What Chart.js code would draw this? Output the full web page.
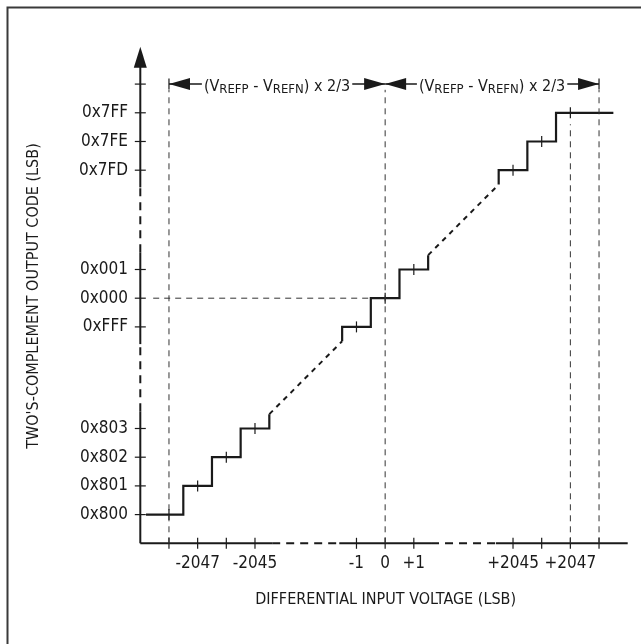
<!DOCTYPE html>
<html><head><meta charset="utf-8">
<script src="https://cdn.jsdelivr.net/npm/chart.js@4.4.1/dist/chart.umd.min.js"></script>
<style>html,body{margin:0;padding:0;background:#fff;}canvas{display:block;}</style>
</head><body>
<canvas id="c" width="641" height="644"></canvas>
<script>
// ---------------- data ----------------
const codeValues = [-2048, -2047, -2046, -2045, -1, 0, 1, 2045, 2046, 2047];
const codeLabels = ['0x800', '0x801', '0x802', '0x803', '0xFFF', '0x000', '0x001', '0x7FD', '0x7FE', '0x7FF'];
const inputTickValues = [-2048, -2047, -2046, -2045, -1, 0, 1, 2045, 2046, 2047, 2048];
const inputLabelValues = [-2047, -2045, -1, 0, 1, 2045, 2047];
const inputLabels = ['-2047', '-2045', '-1', '0', '+1', '+2045', '+2047'];
const stepGroups = [[-2048, -2047, -2046, -2045], [-1, 0, 1], [2045, 2046, 2047]];
const firstTreadStart = -2048.8;   // LSB where the 0x800 code line begins
const lastTreadEnd = 2048.5;       // LSB where the 0x7FF code line ends
const fullScaleMarks = [-2048, 0, 2048];
const spanLabelParts = ['(V', 'REFP', ' - V', 'REFN', ') x 2/3'];
const xTitle = 'DIFFERENTIAL INPUT VOLTAGE (LSB)';
const yTitle = "TWO'S-COMPLEMENT OUTPUT CODE (LSB)";
const axisOrigin = -2049;
const axisBreaks = [[-2044.4, -1.6], [1.6, 2044.4]];
const yAxisTip = 2049.3;
const xAxisEnd = 2049;

// ---------------- broken-axis transform ----------------
function brk(v) {
  if (v < -1000) return v + 2049;
  if (v > 1000) return v - 2032;
  return v + 8.54;
}
const FONT = '"Liberation Sans Narrow", "DejaVu Sans Condensed", "Arial Narrow", sans-serif';
const INK = '#1a1a1a';

function stepPath(codes, startX, endX) {
  const pts = [];
  const c0 = codes[0], cn = codes[codes.length - 1];
  if (startX === undefined) pts.push({x: c0 - 0.5, y: c0 - 0.5});
  codes.forEach((c, i) => {
    pts.push({x: (i === 0 && startX !== undefined) ? startX : c - 0.5, y: c});
    pts.push({x: (i === codes.length - 1 && endX !== undefined) ? endX : c + 0.5, y: c});
  });
  if (endX === undefined) pts.push({x: cn + 0.5, y: cn + 0.5});
  return pts;
}
const T = pts => pts.map(p => ({x: brk(p.x), y: brk(p.y)}));

const datasets = [];
function lineDs(pts, opts) {
  datasets.push(Object.assign({data: T(pts), showLine: true, pointRadius: 0, borderColor: INK, borderWidth: 2, fill: false, tension: 0, clip: false}, opts));
}
// guides (thin dashed)
const guide = {borderColor: '#333', borderWidth: 1, borderDash: [6, 5]};
fullScaleMarks.forEach(v => lineDs([{x: v, y: axisOrigin}, {x: v, y: 2047.8}], guide));
lineDs([{x: 2047, y: axisOrigin}, {x: 2047, y: 2046.6}], guide);
lineDs([{x: -2048.55, y: 0}, {x: -0.5, y: 0}], guide);

// axes, broken where the scale jumps
function axisSegments(from, to) {
  const segs = []; let a = from;
  axisBreaks.forEach(([b0, b1]) => { segs.push([a, b0, false]); segs.push([b0, b1, true]); a = b1; });
  segs.push([a, to, false]);
  return segs;
}
axisSegments(axisOrigin, yAxisTip - 0.7).forEach(([a, b, dashed]) =>
  lineDs([{x: axisOrigin, y: a}, {x: axisOrigin, y: b}], dashed ? {borderDash: [8, 6]} : {}));
axisSegments(axisOrigin, xAxisEnd).forEach(([a, b, dashed]) =>
  lineDs([{x: a, y: axisOrigin}, {x: b, y: axisOrigin}], dashed ? {borderDash: [8, 6]} : {}));

// transfer function steps
const paths = stepGroups.map((g, i) => stepPath(g, i === 0 ? firstTreadStart : undefined, i === stepGroups.length - 1 ? lastTreadEnd : undefined));
paths.forEach(p => lineDs(p, {borderWidth: 2.2}));
for (let i = 0; i < paths.length - 1; i++) {
  lineDs([paths[i][paths[i].length - 1], paths[i + 1][0]], {borderDash: [5, 5], borderWidth: 2});
}

// tick crosses
function tickDs(pts, rot) {
  datasets.push({data: T(pts), showLine: false, pointStyle: 'line', rotation: rot, pointRadius: 5.5, pointBorderWidth: 1.2, pointBorderColor: INK, borderColor: INK, clip: false});
}
tickDs(codeValues.concat([2048]).map(c => ({x: axisOrigin, y: c})), 0);
tickDs(inputTickValues.map(v => ({x: v, y: axisOrigin})), 90);
tickDs(codeValues.map(c => ({x: c, y: c})), 90);
tickDs([{x: fullScaleMarks[0], y: 2048}, {x: fullScaleMarks[2], y: 2048}], 90);

// ---------------- decorations ----------------
const decor = {
  id: 'decor',
  beforeDraw(chart) {
    const ctx = chart.ctx;
    ctx.save();
    ctx.strokeStyle = '#3a3a3a'; ctx.lineWidth = 2;
    ctx.beginPath(); ctx.moveTo(7.5, 644); ctx.lineTo(7.5, 7.5); ctx.lineTo(641, 7.5); ctx.stroke();
    ctx.restore();
  },
  afterDatasetsDraw(chart) {
    const ctx = chart.ctx, xs = chart.scales.x, ys = chart.scales.y;
    ctx.save();
    ctx.fillStyle = INK; ctx.strokeStyle = INK;
    // y axis arrow
    const ax = xs.getPixelForValue(brk(axisOrigin)), tip = ys.getPixelForValue(brk(yAxisTip));
    ctx.beginPath(); ctx.moveTo(ax, tip); ctx.lineTo(ax - 6.5, tip + 21); ctx.lineTo(ax + 6.5, tip + 21); ctx.closePath(); ctx.fill();
    // span annotations
    const y = ys.getPixelForValue(brk(2048));
    const mainF = '16px ' + FONT, subF = '13px ' + FONT;
    for (let k = 0; k < fullScaleMarks.length - 1; k++) {
      const xa = xs.getPixelForValue(brk(fullScaleMarks[k])), xb = xs.getPixelForValue(brk(fullScaleMarks[k + 1]));
      const widths = spanLabelParts.map((t, i) => { ctx.font = i % 2 ? subF : mainF; return ctx.measureText(t).width; });
      const total = widths.reduce((a, b) => a + b, 0);
      const start = (xa + xb) / 2 - total / 2;
      ctx.lineWidth = 1.5;
      ctx.beginPath(); ctx.moveTo(xa, y); ctx.lineTo(start - 2, y); ctx.moveTo(start + total + 2, y); ctx.lineTo(xb, y); ctx.stroke();
      ctx.beginPath(); ctx.moveTo(xa, y); ctx.lineTo(xa + 21, y - 6); ctx.lineTo(xa + 21, y + 6); ctx.closePath(); ctx.fill();
      ctx.beginPath(); ctx.moveTo(xb, y); ctx.lineTo(xb - 21, y - 6); ctx.lineTo(xb - 21, y + 6); ctx.closePath(); ctx.fill();
      let x = start;
      ctx.textBaseline = 'alphabetic'; ctx.textAlign = 'left';
      spanLabelParts.forEach((t, i) => {
        ctx.font = i % 2 ? subF : mainF;
        ctx.fillText(t, x, y + (i % 2 ? 9.4 : 7.4));
        x += widths[i];
      });
    }
    ctx.restore();
  }
};

const tickFont = {family: FONT, size: 17};
const titleFont = {family: FONT, size: 16};
new Chart(document.getElementById('c'), {
  type: 'scatter',
  data: {datasets},
  plugins: [decor],
  options: {
    responsive: false, animation: false, events: [],
    layout: {padding: {left: 0, top: 48.7, right: 10, bottom: 0}},
    plugins: {legend: {display: false}, tooltip: {enabled: false}},
    scales: {
      x: {
        type: 'linear', min: brk(axisOrigin), max: brk(2049.115),
        grid: {display: false, drawTicks: false}, border: {display: false},
        afterBuildTicks: s => { s.ticks = inputLabelValues.map(v => ({value: brk(v)})); },
        afterFit: s => { s.height = 100.7; },
        ticks: {autoSkip: false, maxRotation: 0, minRotation: 0, padding: 9.8, font: tickFont, color: INK,
          callback: (v, i) => inputLabels[i]},
        title: {display: true, text: xTitle, font: titleFont, color: INK, padding: {top: 0, bottom: 34.2}}
      },
      y: {
        type: 'linear', min: brk(axisOrigin), max: brk(2049.233),
        grid: {display: false, drawTicks: false}, border: {display: false},
        afterBuildTicks: s => { s.ticks = codeValues.map(v => ({value: brk(v)})); },
        afterFit: s => { s.width = 140.3; },
        ticks: {autoSkip: false, padding: 12.3, font: tickFont, color: INK,
          callback: (v, i) => codeLabels[i]},
        title: {display: true, text: yTitle, font: titleFont, color: INK, padding: {top: 24.4, bottom: 0}}
      }
    }
  }
});
</script>
</body></html>
